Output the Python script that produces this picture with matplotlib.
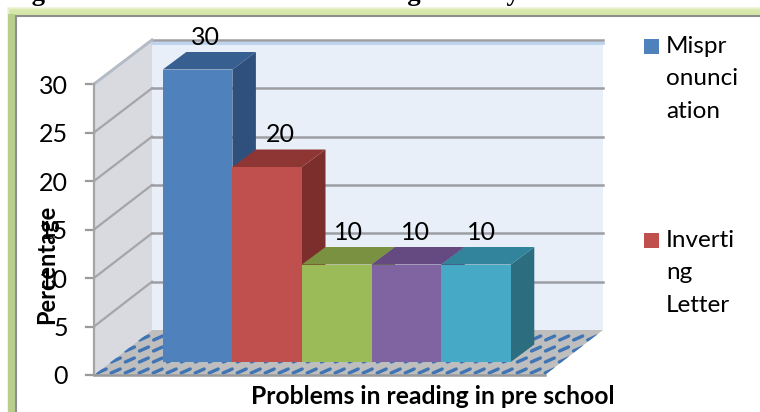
import matplotlib
matplotlib.use("Agg")
import matplotlib.pyplot as plt
from matplotlib.patches import Polygon, Rectangle

# ------------------------------------------------------
# Data
# ------------------------------------------------------
problems = ["Mispronunciation", "Inverting Letter", "Problem 3", "Problem 4", "Problem 5"]
percentages = [30, 20, 10, 10, 10]
bar_colors = ["#4F81BD", "#C0504D", "#9BBB59", "#8064A2", "#46AAC6"]
top_colors = ["#375F8F", "#8E3634", "#7A9142", "#654A82", "#31849B"]
side_colors = ["#2F507C", "#7C2E2C", "#6A7E38", "#563E70", "#2C6E80"]
label_dx = [8, 13, 12, 9, 5]
y_ticks = [0, 5, 10, 15, 20, 25, 30]
legend_labels = [["Mispr", "onunci", "ation"], ["Inverti", "ng", "Letter"]]

plt.rcParams["font.family"] = ["Lato", "DejaVu Sans"]

W, H = 760, 412
fig = plt.figure(figsize=(W / 100, H / 100), dpi=100)

# background axes works in image pixels
bg = fig.add_axes([0, 0, 1, 1])
bg.set_xlim(0, W)
bg.set_ylim(H, 0)
bg.axis("off")

# ------------------------------------------------------
# Title (cut off by the top of the image) and green frame
# ------------------------------------------------------
bg.text(8, -0.5, "Figure 4: Factors that affect reading in Early Childhood Classes",
        family="Liberation Serif", weight="bold", fontsize=19.2, va="baseline", ha="left",
        color="black")

for i in range(8):
    bg.add_patch(Rectangle((7 + i, 7 + i), W, H, fc="#D5E6A6", ec="none", alpha=0.35 + 0.05 * i))
bg.add_patch(Rectangle((8, 14), 7, H, fc="#B8CF8C", ec="none"))
bg.add_patch(Rectangle((15.5, 15.5), W, H, fc="white", ec="#8E8E8E", lw=1.5))

# ------------------------------------------------------
# Walls, floor and gridlines of the 3D box
# ------------------------------------------------------
FX, FY = 94, 375      # front corner of the floor
BX, BY = 152, 330     # back corner of the floor
RX = 603              # right end of the back wall
FLOOR_W = RX - BX
V_FRONT = 9.7
V_BACK = 9.67

top = BY - 30 * V_BACK
bg.add_patch(Polygon([(BX, top), (RX, top), (RX, BY), (BX, BY)], fc="#E9EFF8", ec="none"))
bg.add_patch(Polygon([(FX, FY - 30 * V_FRONT), (BX, top), (BX, BY), (FX, FY)], fc="#D8DADF", ec="none"))
floor = Polygon([(FX, FY), (FX + FLOOR_W, FY), (RX, BY), (BX, BY)], fc="#BEBEBE", ec="none")
bg.add_patch(floor)

# dashes of the floor pattern
for row_y in [371, 360, 349, 338]:
    shift = (FY - row_y) * (BX - FX) / (FY - BY)
    for k in range(34):
        x0 = FX + shift + k * 14 - 2
        ln, = bg.plot([x0, x0 + 9], [row_y + 2, row_y - 2], color="#3F74B5", lw=2.4, solid_capstyle="round")
        ln.set_clip_path(floor)

for v in y_ticks:
    fy = FY - v * V_FRONT
    by = BY - v * V_BACK
    bg.plot([86, FX], [fy, fy], color="#9A9A9A", lw=1.6)
    if v > 0:
        bg.plot([FX, BX], [fy, by], color="#A3A5A9", lw=1.6)
        bg.plot([BX, RX], [by, by], color="#9C9EA3", lw=1.8)
    bg.text(68, fy + 2, str(v), ha="right", va="center", fontsize=18, color="black")

bg.plot([BX, RX], [top + 3, top + 3], color="#BBD3EE", lw=2)
bg.plot([FX, BX], [FY - 30 * V_FRONT, top], color="#B4BCC8", lw=2)
bg.plot([FX, FX], [FY - 30 * V_FRONT, FY], color="#A3A5A9", lw=1.6)
bg.plot([FX, FX + FLOOR_W], [FY, FY], color="#9A9A9A", lw=1.8)

# ------------------------------------------------------
# Bars: x in category units, y in percentage units
# ------------------------------------------------------
PX_CAT = 69.6
PX_VAL = 9.75
X0 = 197.6   # pixel of the first bar centre
Y0 = 362     # pixel of value 0 at the bar base

ax = fig.add_axes([0, 0, 1, 1])
ax.set_xlim(-X0 / PX_CAT, (W - X0) / PX_CAT)
ax.set_ylim(-(H - Y0) / PX_VAL, Y0 / PX_VAL)
ax.axis("off")
ax.patch.set_alpha(0)

dx = 23.5 / PX_CAT
dy = 17.5 / PX_VAL
for i, val in enumerate(percentages):
    l, r = i - 0.5, i + 0.5
    ax.add_patch(Polygon([(r, 0), (r + dx, dy), (r + dx, val + dy), (r, val)], fc=side_colors[i], ec="none"))
    ax.add_patch(Polygon([(l, val), (l + dx, val + dy), (r + dx, val + dy), (r, val)], fc=top_colors[i], ec="none"))
    ax.bar(i, val, width=1, color=bar_colors[i], linewidth=0)
    ax.text(i + label_dx[i] / PX_CAT, val + 32.5 / PX_VAL, str(val), ha="center", va="center",
            fontsize=18, color="black")

# ------------------------------------------------------
# Axis titles and legend
# ------------------------------------------------------
bg.text(433, 397, "Problems in reading in pre school", ha="center", va="center",
        fontsize=17.8, weight="bold", color="black", zorder=5)
ax.text((47 - X0) / PX_CAT, (Y0 - 264) / PX_VAL, "Percentage", rotation=90, ha="center", va="center",
        fontsize=17, weight="bold", color="black")

for j, lines in enumerate(legend_labels):
    top_y = [39, 233][j]
    bg.add_patch(Rectangle((644, top_y), 15, 15, fc=bar_colors[j], ec="none", zorder=5))
    for n, line in enumerate(lines):
        bg.text(666, top_y + 7 + n * 32.5, line, ha="left", va="center", fontsize=17.5, color="black", zorder=5)

fig.savefig("out.png", dpi=100)
